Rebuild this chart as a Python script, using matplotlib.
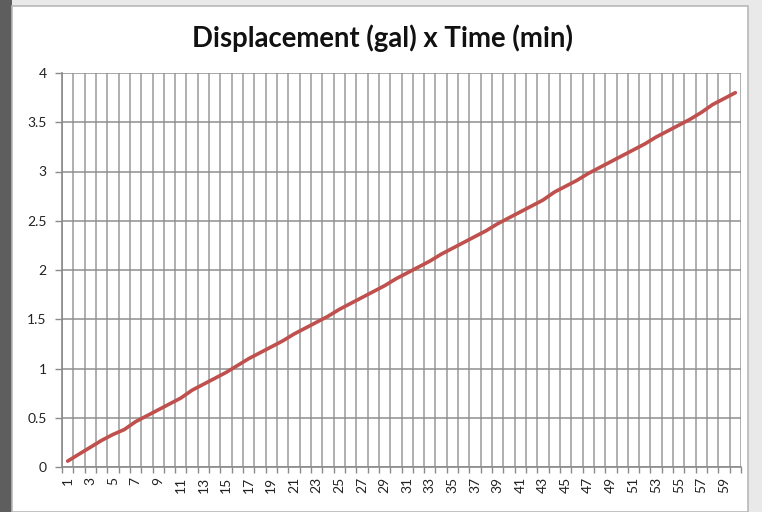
import matplotlib
matplotlib.use("Agg")
import matplotlib.pyplot as plt
from matplotlib.patches import Rectangle
import numpy as np

time_min = list(range(1, 61))
displacement = [0.06, 0.13, 0.20, 0.27, 0.33, 0.38, 0.46, 0.52, 0.58, 0.64,
                0.70, 0.78, 0.84, 0.90, 0.96, 1.03, 1.10, 1.16, 1.22, 1.28,
                1.35, 1.41, 1.47, 1.53, 1.60, 1.66, 1.72, 1.78, 1.84, 1.91,
                1.97, 2.03, 2.09, 2.16, 2.22, 2.28, 2.34, 2.40, 2.47, 2.53,
                2.59, 2.65, 2.71, 2.79, 2.85, 2.91, 2.98, 3.04, 3.10, 3.16,
                3.22, 3.28, 3.35, 3.41, 3.47, 3.53, 3.60, 3.68, 3.74, 3.80]
y_ticks = [0, 0.5, 1, 1.5, 2, 2.5, 3, 3.5, 4]
y_labels = ["0", "0.5", "1", "1.5", "2", "2.5", "3", "3.5", "4"]
title = "Displacement (gal) x Time (min)"

plt.rcParams['font.family'] = ['Lato', 'DejaVu Sans']

W, H = 762, 512
fig = plt.figure(figsize=(W/100, H/100), dpi=100)
fig.patch.set_facecolor('#e9e9e9')

# background frame pieces (screenshot look)
fig.add_artist(Rectangle((0, 0), 12/W, 1, transform=fig.transFigure,
                         facecolor='#5e5e5e', edgecolor='none', zorder=0))
fig.add_artist(Rectangle((12/W, 0), (748-12)/W, (512-6)/H, transform=fig.transFigure,
                         facecolor='white', edgecolor='#b8b8b8', linewidth=1.2, zorder=0))

ax = fig.add_axes([62/W, 1-467/H, (741-62)/W, (467-73)/H])
ax.set_facecolor('white')

n = len(time_min)
xs = np.arange(1, n+1)
ax.plot(xs, displacement, color='#C0504D', linewidth=2.6, solid_capstyle='round', zorder=3)

ax.set_xlim(0.5, n+0.5)
ax.set_ylim(0, 4)

# vertical gridlines at category boundaries
bounds = np.arange(0.5, n+1.0, 1.0)
for b in bounds:
    ax.axvline(b, color='#9a9a9a', linewidth=1.1, zorder=1)
for yv in y_ticks:
    ax.axhline(yv, color='#8f8f8f', linewidth=1.1, zorder=1)

ax.set_yticks(y_ticks)
ax.set_yticklabels(y_labels)
ax.set_xticks(bounds, minor=False)
ax.set_xticklabels([])
ax.set_xticks(xs[::2], minor=True)
ax.set_xticklabels([str(t) for t in time_min[::2]], minor=True, rotation=90)
ax.tick_params(axis='x', which='major', length=4, color='#8a8a8a', width=1)
ax.tick_params(axis='x', which='minor', length=0, labelsize=10, pad=7, labelcolor='#222222')
ax.tick_params(axis='y', length=5, color='#8a8a8a', width=1, labelsize=10, pad=6, labelcolor='#222222')

for s in ['top', 'right']:
    ax.spines[s].set_visible(False)
ax.spines['left'].set_color('#8a8a8a')
ax.spines['bottom'].set_color('#8a8a8a')
ax.spines['left'].set_linewidth(1.2)
ax.spines['bottom'].set_linewidth(1.2)

fig.text(383/W, 1-38/H, title, ha='center', va='center', fontsize=19.8, fontweight='bold', color='#111111')

fig.savefig('out.png', dpi=100, facecolor=fig.get_facecolor())
